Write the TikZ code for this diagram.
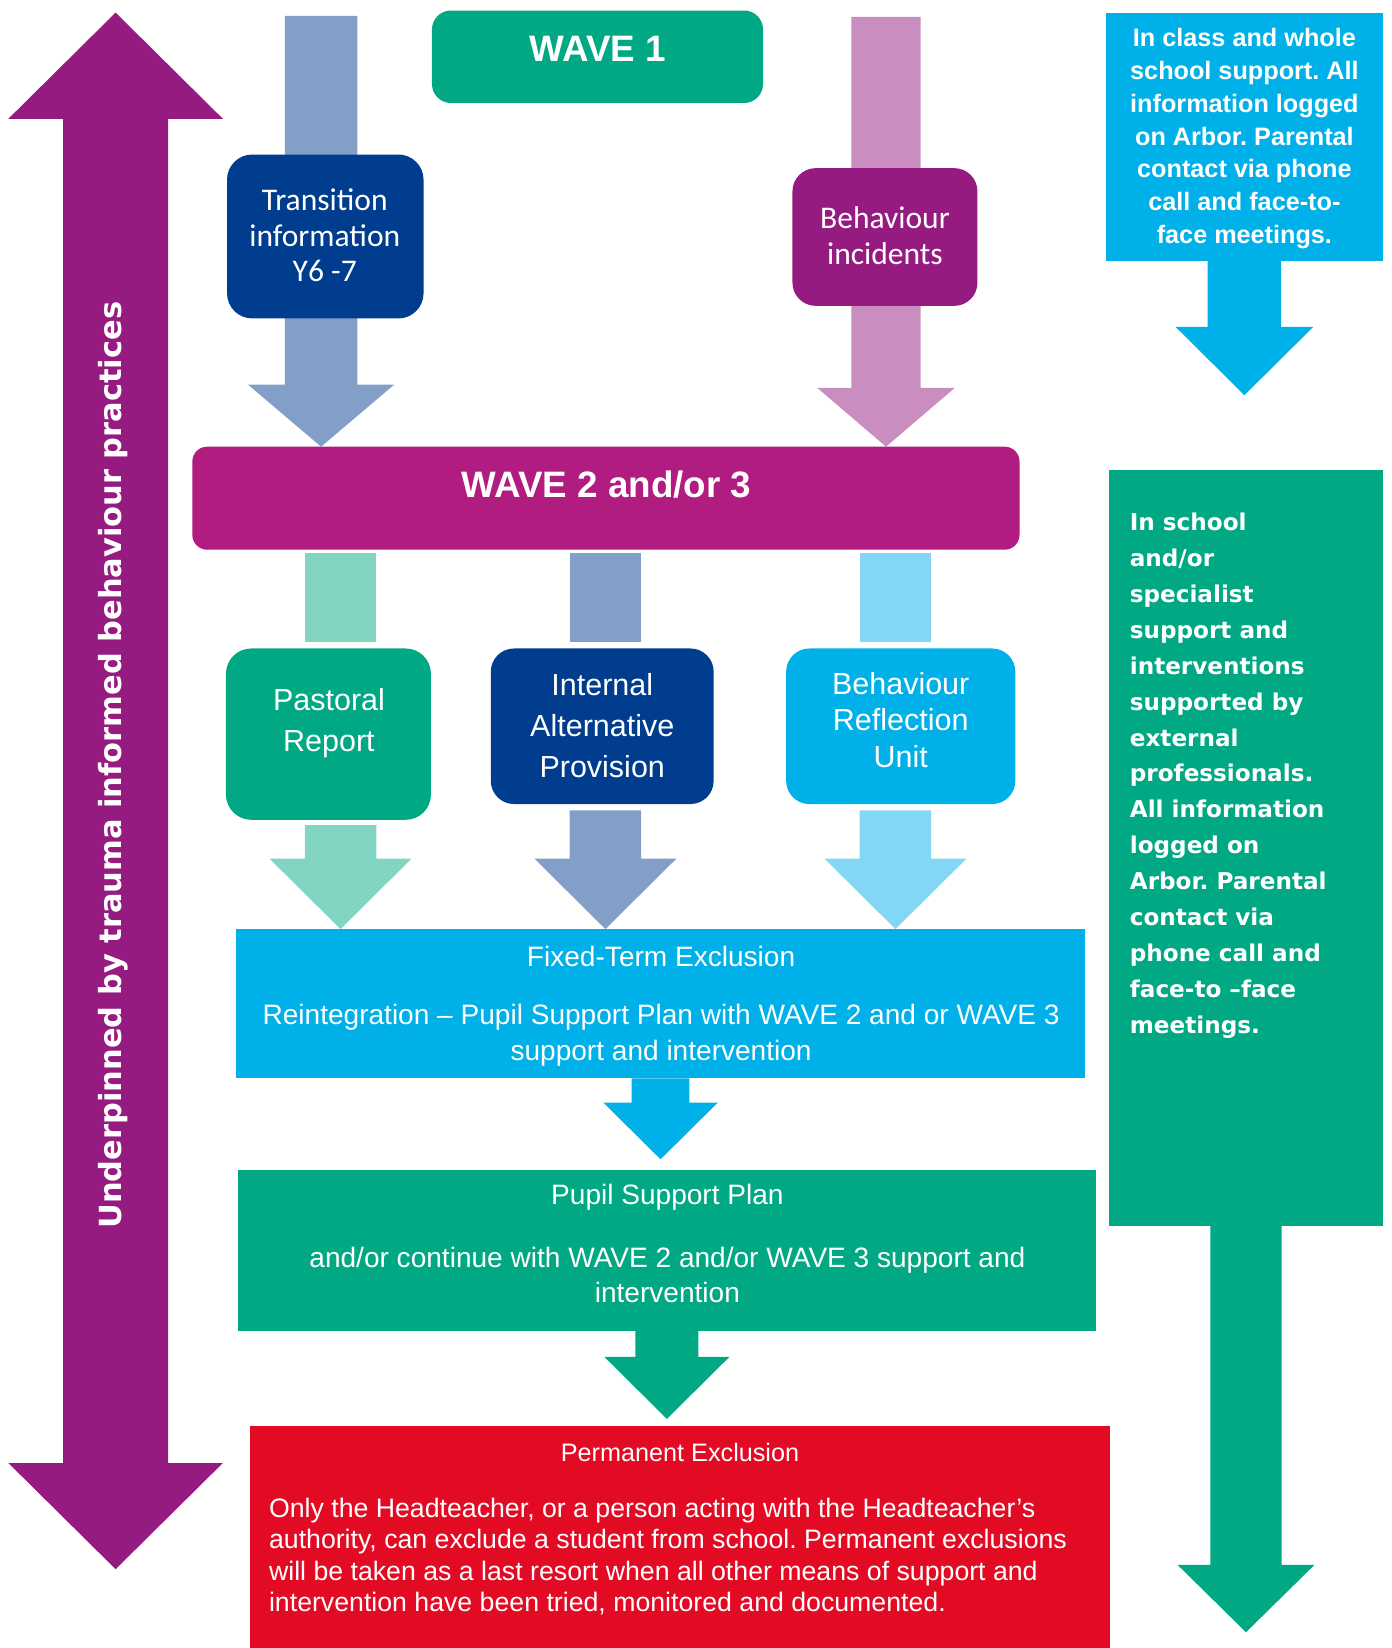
\documentclass[tikz,border=0pt]{standalone}
\usepackage{fontspec}
\setmainfont{Liberation Sans}
\newfontfamily\calfont{Carlito}
\newfontfamily\verdfont{DejaVu Sans}
\usetikzlibrary{calc}
\pgfdeclarelayer{background}
\pgfsetlayers{background,main}
\frenchspacing

\definecolor{plum}{HTML}{951B81}
\definecolor{berry}{HTML}{B01C7F}
\definecolor{pinklt}{HTML}{C98DC0}
\definecolor{teal2}{HTML}{00A984}
\definecolor{mint}{HTML}{82D5C2}
\definecolor{navy2}{HTML}{003D8F}
\definecolor{steel}{HTML}{82A0C7}
\definecolor{sky}{HTML}{00B1E9}
\definecolor{skylt}{HTML}{82D8F4}
\definecolor{alert}{HTML}{E30A24}

\newcommand\fs[2]{\fontsize{#1pt}{#2pt}\selectfont}

% straight vertical bar: colour, start, end, half width
\newcommand\shaftbar[4]{%
  \fill[#1] let \p1=(#2), \p2=(#3) in (\x1-#4,\y1) rectangle (\x1+#4,\y2);}

% downward block arrow: colour, start, tip, shaft half width, head half width, head length
\newcommand\blockarrow[6]{%
  \fill[#1] let \p1=(#2), \p2=(#3) in
    (\x1-#4,\y1) -- (\x1+#4,\y1) -- (\x1+#4,\y2+#6) -- (\x1+#5,\y2+#6)
    -- (\x1,\y2) -- (\x1-#5,\y2+#6) -- (\x1-#4,\y2+#6) -- cycle;}

\begin{document}
\begin{tikzpicture}[x=1pt,y=-1pt,
  panel/.style={inner sep=0pt, outer sep=0pt},
  label/.style={inner sep=0pt, outer sep=0pt, text=white, align=center},
  wavefont/.style={font=\fs{35}{40}\bfseries},
  calibri/.style={font=\calfont\fs{30}{34}},
  plain/.style={font=\fs{29}{39}},
  body/.style={font=\fs{26.7}{34}},
]
\useasboundingbox (0,0) rectangle (1324,1568);

% ---------- boxes ----------
\node[panel, fill=teal2, rounded corners=18pt, minimum width=315pt, minimum height=88pt] (wave1) at (568.5,54) {};
\node[label, wavefont] (wave1-t) at (569,46) {WAVE 1};

\node[panel, fill=navy2, rounded corners=24pt, minimum width=187pt, minimum height=156pt] (trans) at (309.5,225) {};
\node[label, calibri] (trans-t) at (309,224) {Transition\\information\\Y6 -7};

\node[panel, fill=plum, rounded corners=22pt, minimum width=176pt, minimum height=131pt] (incid) at (842,225.5) {};
\node[label, calibri] (incid-t) at (842,224) {Behaviour\\incidents};

\node[panel, fill=sky, minimum width=264pt, minimum height=236pt] (info1) at (1184,130) {};
\node[label, font=\fs{24}{31.2}\bfseries] (info1-t) at (1184,132) {In class and whole\\school support. All\\information logged\\on Arbor. Parental\\contact via phone\\call and face-to-\\face meetings.};

\node[panel, fill=berry, rounded corners=14pt, minimum width=787pt, minimum height=98pt] (wave2) at (576.5,474) {};
\node[label, wavefont] (wave2-t) at (577,461) {WAVE 2 and/or 3};

\node[panel, fill=teal2, rounded corners=24pt, minimum width=195pt, minimum height=163pt] (pastoral) at (312.5,698.5) {};
\node[label, plain] (pastoral-t) at (313,688) {Pastoral\\Report};

\node[panel, fill=navy2, rounded corners=22pt, minimum width=212pt, minimum height=148pt] (iap) at (573,691) {};
\node[label, plain] (iap-t) at (573,690) {Internal\\Alternative\\Provision};

\node[panel, fill=sky, rounded corners=22pt, minimum width=218pt, minimum height=148pt] (bru) at (857,691) {};
\node[label, font=\fs{29}{34.5}] (bru-t) at (857,685) {Behaviour\\Reflection\\Unit};

\node[panel, fill=sky, minimum width=807pt, minimum height=142pt] (fte) at (628.5,955) {};
\node[label, body] (fte-title) at (629,910) {Fixed-Term Exclusion};
\node[label, body] (fte-t) at (629,985) {Reintegration – Pupil Support Plan with WAVE 2 and or WAVE 3\\support and intervention};

\node[panel, fill=teal2, minimum width=817pt, minimum height=153pt] (psp) at (634.5,1189.5) {};
\node[label, body] (psp-title) at (635,1139) {Pupil Support Plan};
\node[label, body] (psp-t) at (635,1213) {and/or continue with WAVE 2 and/or WAVE 3 support and\\intervention};

\node[panel, fill=alert, minimum width=818pt, minimum height=211pt] (pex) at (647,1462.5) {};
\node[label, font=\fs{24}{30}] (pex-title) at (647,1382) {Permanent Exclusion};
\node[label, align=left, anchor=west, font=\fs{25.4}{30}] (pex-t) at (256,1481) {Only the Headteacher, or a person acting with the Headteacher’s\\authority, can exclude a student from school. Permanent exclusions\\will be taken as a last resort when all other means of support and\\intervention have been tried, monitored and documented.};

\node[panel, fill=teal2, minimum width=261pt, minimum height=719pt] (info23) at (1185.5,806.5) {};
\node[label, align=left, anchor=west, font=\verdfont\fs{22}{34.2}\bfseries] (info23-t) at (1075,738) {In school\\and/or\\specialist\\support and\\interventions\\supported by\\external\\professionals.\\All information\\logged on\\Arbor. Parental\\contact via\\phone call and\\face-to –face\\meetings.};

% ---------- free ends of the arrows ----------
\coordinate (feedA) at (305.5,15);
\coordinate (feedB) at (843,16);
\coordinate (tip1) at (1184,376);
\coordinate (tip23) at (1185.5,1553);
\coordinate (colP) at (324,0);
\coordinate (colI) at (576,0);
\coordinate (colB) at (852,0);
\coordinate (ptop) at (110,12);
\coordinate (pbot) at (110,1493);

\begin{pgfonlayer}{background}
  % feeds into WAVE 2 and/or 3
  \blockarrow{steel}{feedA}{feedA |- wave2.north}{34.5pt}{69.5pt}{59pt}
  \blockarrow{pinklt}{feedB}{feedB |- wave2.north}{33pt}{65.5pt}{56pt}
  % wave 1 side panel
  \blockarrow{sky}{info1.south}{tip1}{35pt}{65.5pt}{65pt}
  % WAVE 2 and/or 3 to the three provisions
  \shaftbar{mint}{$(colP |- wave2.south)+(0,3)$}{$(colP |- pastoral.north)+(0,-6)$}{34pt}
  \shaftbar{steel}{$(colI |- wave2.south)+(0,3)$}{$(colI |- iap.north)+(0,-6)$}{34pt}
  \shaftbar{skylt}{$(colB |- wave2.south)+(0,3)$}{$(colB |- bru.north)+(0,-6)$}{34pt}
  % provisions to fixed-term exclusion
  \blockarrow{mint}{$(colP |- pastoral.south)+(0,5)$}{colP |- fte.north}{34pt}{67.5pt}{67pt}
  \blockarrow{steel}{$(colI |- iap.south)+(0,6)$}{colI |- fte.north}{34pt}{67.5pt}{67pt}
  \blockarrow{skylt}{$(colB |- bru.south)+(0,6)$}{colB |- fte.north}{34pt}{67.5pt}{67pt}
  % down the main column
  \blockarrow{sky}{fte.south}{$(fte.south |- psp.north)+(0,-10)$}{27.5pt}{54.5pt}{54pt}
  \blockarrow{teal2}{psp.south}{$(psp.south |- pex.north)+(0,-7)$}{30pt}{59.5pt}{59pt}
  % wave 2/3 side panel
  \blockarrow{teal2}{info23.south}{tip23}{34pt}{65pt}{64pt}
  % double-headed arrow along the left edge
  \fill[plum] let \p1=(ptop), \p2=(pbot) in
    (\x1,\y1) -- (\x1+102pt,\y1-101pt) -- (\x1+50pt,\y1-101pt) -- (\x1+50pt,\y2+101pt)
    -- (\x1+102pt,\y2+101pt) -- (\x1,\y2) -- (\x1-102pt,\y2+101pt) -- (\x1-50pt,\y2+101pt)
    -- (\x1-50pt,\y1-101pt) -- (\x1-102pt,\y1-101pt) -- cycle;
\end{pgfonlayer}

\node[label, rotate=90, font=\verdfont\fs{29}{34}\bfseries] (underpin) at (108,728) {Underpinned by trauma informed behaviour practices};
\end{tikzpicture}
\end{document}
